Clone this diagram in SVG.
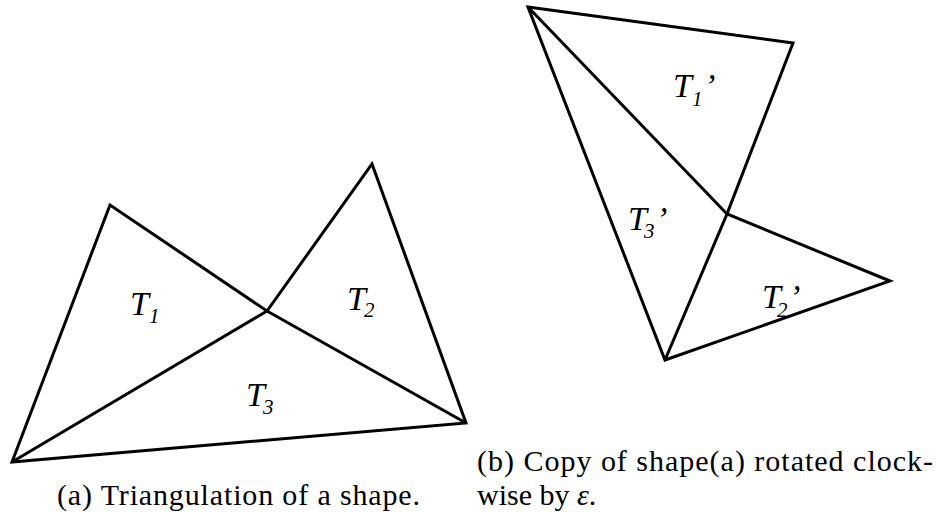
<svg xmlns="http://www.w3.org/2000/svg" width="940" height="518" viewBox="0 0 940 518">
<rect width="940" height="518" fill="#fff"/>
<g id="shape-a">
  <g id="edges-a" fill="none" stroke="#000" stroke-width="3" stroke-linejoin="miter" stroke-miterlimit="10">
    <polygon points="12,462 110,205 267,311 372,164 466,423"/>
    <line x1="267" y1="311" x2="12" y2="462"/>
    <line x1="267" y1="311" x2="466" y2="423"/>
  </g>
  <g font-family="Liberation Serif" font-style="italic" font-size="34" fill="#000">
    <g id="T1">
      <text x="130" y="315">T<tspan font-size="21" x="149" y="323">1</tspan></text>
    </g>
    <g id="T2">
      <text x="347" y="310">T<tspan font-size="21" x="364" y="317">2</tspan></text>
    </g>
    <g id="T3">
      <text x="246" y="406">T<tspan font-size="21" x="263" y="414">3</tspan></text>
    </g>
  </g>
</g>
<g id="shape-b">
  <g id="edges-b" fill="none" stroke="#000" stroke-width="3" stroke-linejoin="miter" stroke-miterlimit="10">
    <polygon points="528,7 793,43 727,214 890,281 665,360"/>
    <line x1="528" y1="7" x2="727" y2="214"/>
    <line x1="727" y1="214" x2="665" y2="360"/>
  </g>
  <g font-family="Liberation Serif" font-style="italic" font-size="34" fill="#000">
    <g id="T1p">
      <text x="673" y="97">T<tspan font-size="21" x="692" y="106">1</tspan><tspan x="704" y="97">&#8217;</tspan></text>
    </g>
    <g id="T3p">
      <text x="628" y="230">T<tspan font-size="21" x="644" y="238">3</tspan><tspan x="656" y="230">&#8217;</tspan></text>
    </g>
    <g id="T2p">
      <text x="762" y="308">T<tspan font-size="21" x="777" y="317">2</tspan><tspan x="789" y="308">&#8217;</tspan></text>
    </g>
  </g>
</g>
<g id="captions" font-family="Liberation Serif" font-size="30" fill="#000">
  <text x="57" y="505" textLength="363" lengthAdjust="spacing">(a) Triangulation of a shape.</text>
  <text x="477" y="471" textLength="456" lengthAdjust="spacing">(b) Copy of shape(a) rotated clock-</text>
  <text x="477" y="505">wise by <tspan font-style="italic">&#949;</tspan>.</text>
</g>
</svg>
